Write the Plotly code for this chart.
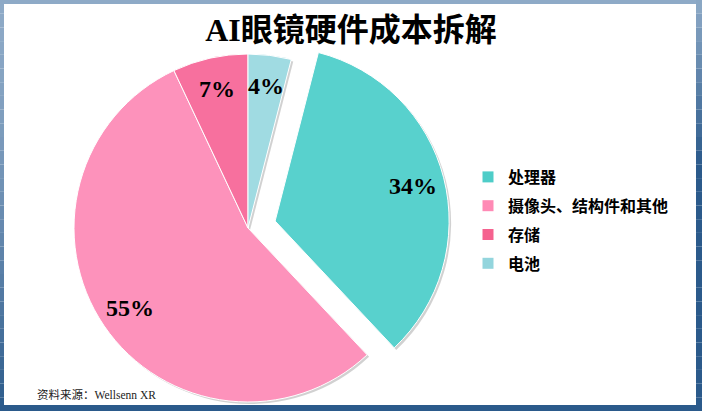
import math
import plotly.graph_objects as go

W, H = 702, 411

labels = ["处理器", "摄像头、结构件和其他", "存储", "电池"]
values = [34, 55, 7, 4]
pct_text = ["34%", "55%", "7%", "4%"]
slice_colors = ["#58d1cd", "#fd92bb", "#f7709e", "#a0dbe2"]
legend_colors = ["#4ecdc8", "#ff8ab5", "#f5628f", "#93d5dd"]
title_text = "AI眼镜硬件成本拆解"
source_text = "资料来源：Wellsenn XR"

# layout parameters (pixels)
R = 174
main_c = (248, 228)
pull_px = 28
lab_frac = 0.82

total = sum(values)
rotation = values[-1] / total * 360  # first slice starts right after the last one

def px_x(x):
    return x / W

def px_y(y):
    return 1 - y / H

def dom(c, dx=0, dy=0):
    cx, cy = c[0] + dx, c[1] + dy
    return dict(x=[px_x(cx - R), px_x(cx + R)], y=[px_y(cy + R), px_y(cy - R)])

# pulled slice direction (processor, index 0)
mid0 = rotation + values[0] / total * 360 / 2
pdx = pull_px * math.sin(math.radians(mid0))
pdy = -pull_px * math.cos(math.radians(mid0))
pull_c = (main_c[0] + pdx, main_c[1] + pdy)

T = "rgba(0,0,0,0)"
SH = "rgba(0,0,0,0.18)"

fig = go.Figure()

def pie(colors, widths, domain):
    return go.Pie(
        labels=labels, values=values, sort=False, direction="clockwise",
        rotation=rotation, textinfo="none", hoverinfo="skip", showlegend=False,
        marker=dict(colors=colors, line=dict(color="white", width=widths)),
        domain=domain,
    )

# shadows
fig.add_trace(pie([T, SH, SH, SH], [0, 0, 0, 0], dom(main_c, 2, 2)))
fig.add_trace(pie([SH, T, T, T], [0, 0, 0, 0], dom(pull_c, 2, 2)))
# main pie (processor removed) and pulled processor slice
fig.add_trace(pie([T] + slice_colors[1:], [0, 1, 1, 1], dom(main_c)))
fig.add_trace(pie([slice_colors[0], T, T, T], [1, 0, 0, 0], dom(pull_c)))

# legend entries
for lab, col in zip(labels, legend_colors):
    fig.add_trace(go.Scatter(
        x=[None], y=[None], mode="markers", name=lab, legendgroup=lab,
        marker=dict(symbol="square", size=11, color=col),
    ))

# percentage labels
annotations = []
start = rotation
for i, (v, t) in enumerate(zip(values, pct_text)):
    ang = start + v / total * 360 / 2
    start += v / total * 360
    c = pull_c if i == 0 else main_c
    x = c[0] + lab_frac * R * math.sin(math.radians(ang))
    y = c[1] - lab_frac * R * math.cos(math.radians(ang))
    annotations.append(dict(
        x=px_x(x), y=px_y(y), xref="paper", yref="paper", text=t, showarrow=False,
        font=dict(family="Liberation Serif", size=24, color="black", weight="bold"),
        xanchor="center", yanchor="middle",
    ))

annotations.append(dict(
    x=px_x(35), y=px_y(394), xref="paper", yref="paper", text=source_text,
    showarrow=False, xanchor="left", yanchor="middle",
    font=dict(family="Liberation Serif, Noto Sans CJK SC", size=11.5, color="#222"),
))

# frame
shapes = []
def lerp(c1, c2, t):
    return "rgb(%d,%d,%d)" % tuple(round(a + (b - a) * t) for a, b in zip(c1, c2))

light = (142, 170, 199)
dark = (43, 90, 139)
shapes.append(dict(type="rect", xref="paper", yref="paper", x0=0, x1=1,
                   y0=px_y(4), y1=1, fillcolor=lerp(light, dark, 0), line_width=0))
N = 30
for k in range(N):
    y0p, y1p = k * H / N, (k + 1) * H / N
    t = (k + 0.5) / N
    shapes.append(dict(type="rect", xref="paper", yref="paper", x0=0, x1=px_x(4),
                       y0=px_y(y1p), y1=px_y(y0p), fillcolor=lerp(light, dark, t ** 1.5), line_width=0))
    shapes.append(dict(type="rect", xref="paper", yref="paper", x0=px_x(696), x1=1,
                       y0=px_y(y1p), y1=px_y(y0p), fillcolor=lerp(light, dark, min(1, t * 2.5)), line_width=0))
shapes.append(dict(type="rect", xref="paper", yref="paper", x0=0, x1=1,
                   y0=0, y1=px_y(405), fillcolor=lerp(light, dark, 1), line_width=0))

fig.update_layout(
    width=W, height=H, margin=dict(l=0, r=0, t=0, b=0),
    paper_bgcolor="white", plot_bgcolor="white",
    xaxis=dict(visible=False), yaxis=dict(visible=False),
    title=dict(text=title_text, x=px_x(351), xanchor="center", y=px_y(30), yanchor="middle",
               yref="container",
               font=dict(family="Liberation Serif, Noto Sans CJK SC", size=32, color="black", weight="bold")),
    legend=dict(x=px_x(468), y=px_y(160), xanchor="left", yanchor="top",
                font=dict(family="Liberation Serif, Noto Sans CJK SC", size=16, color="black", weight="bold"),
                tracegroupgap=5, bgcolor="rgba(0,0,0,0)"),
    annotations=annotations,
    shapes=shapes,
)

fig.write_html("out.html", config={"displayModeBar": False},
               post_script="document.body.style.margin='0';document.body.style.overflow='hidden';")
